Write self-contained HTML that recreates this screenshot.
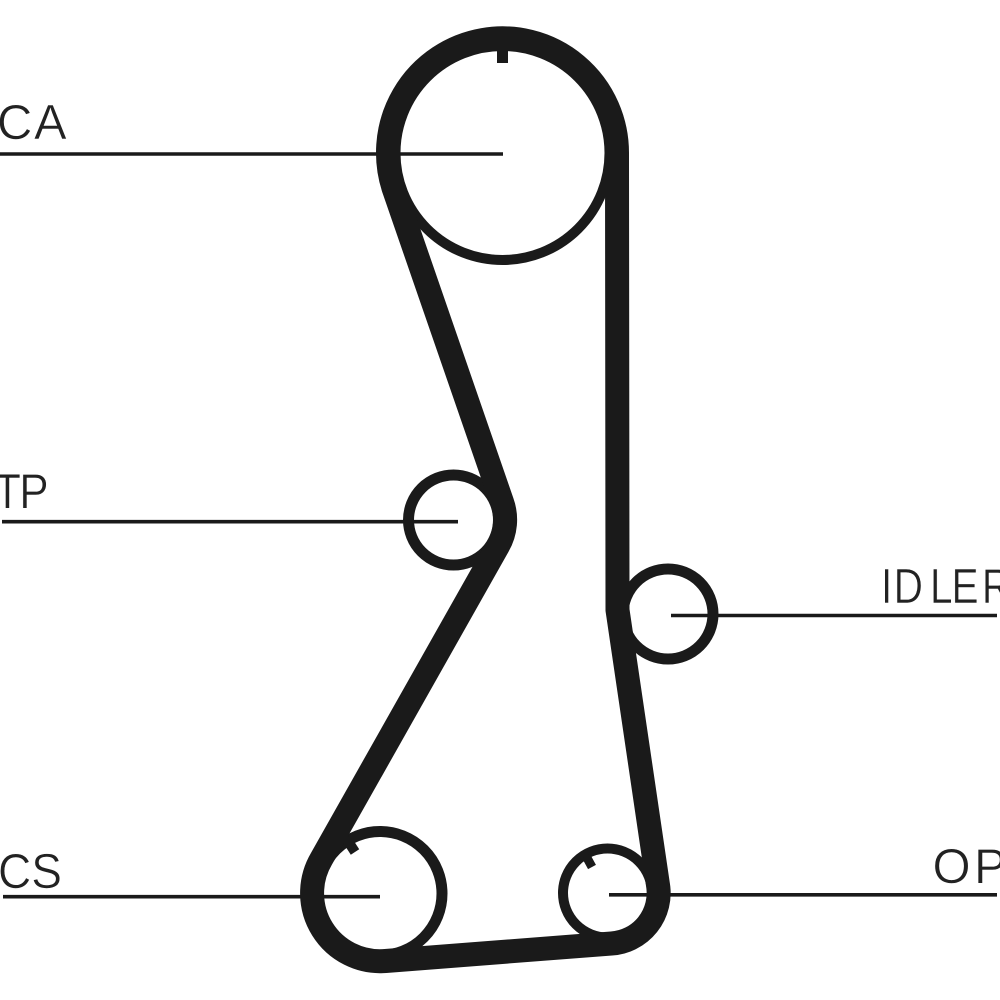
<!DOCTYPE html>
<html>
<head>
<meta charset="utf-8">
<style>
html,body{margin:0;padding:0;background:#fff;width:1000px;height:1000px;overflow:hidden}
svg{display:block}
text{font-family:"Liberation Sans",sans-serif;font-size:49px;fill:#222;stroke:#fff;stroke-width:.6px}
</style>
</head>
<body>
<svg width="1000" height="1000" viewBox="0 0 1000 1000" xmlns="http://www.w3.org/2000/svg">
<rect width="1000" height="1000" fill="#fff"/>
<g fill="none" stroke="#1a1a1a">
<!-- pulleys -->
<circle cx="502.5" cy="153" r="107" stroke-width="10"/>
<circle cx="453.5" cy="520" r="45" stroke-width="11"/>
<circle cx="668" cy="614" r="45" stroke-width="11"/>
<circle cx="380" cy="893.5" r="62" stroke-width="11"/>
<circle cx="607.5" cy="893" r="44.5" stroke-width="10"/>
<!-- belt -->
<path stroke-width="24" stroke-linejoin="round" d="M394.8 191.7 A114.5 114.5 0 1 1 617 153 L617.5 610 L658 885 A50.5 50.5 0 0 1 611.5 943.5 L385.5 961 A68 68 0 0 1 321.5 858.7 L498 546 A52 52 0 0 0 502 502 Z"/>
<!-- ticks -->
<path stroke-width="11" d="M502.5 40V63"/>
<path stroke-width="10" d="M346 838L355 852"/>
<path stroke-width="9" d="M586 856L592 867"/>
<!-- leader lines -->
<g stroke-width="3.6">
<path d="M0 154H503"/>
<path d="M2 521.7H458"/>
<path d="M671 615.5H997"/>
<path d="M3 896.7H380"/>
<path d="M609 894.8H997"/>
</g>
</g>
<text x="-3 34" y="139">CA</text>
<text transform="translate(-6 508) scale(.9 1)" x="0 28" y="0">TP</text>
<text transform="translate(881 603) scale(.83 1)" x="0 15.3 59 85 121.5" y="0">IDLER</text>
<text x="-2" y="888" textLength="64" lengthAdjust="spacingAndGlyphs">CS</text>
<text x="932.5 974" y="883">OP</text>
</svg>
</body>
</html>
